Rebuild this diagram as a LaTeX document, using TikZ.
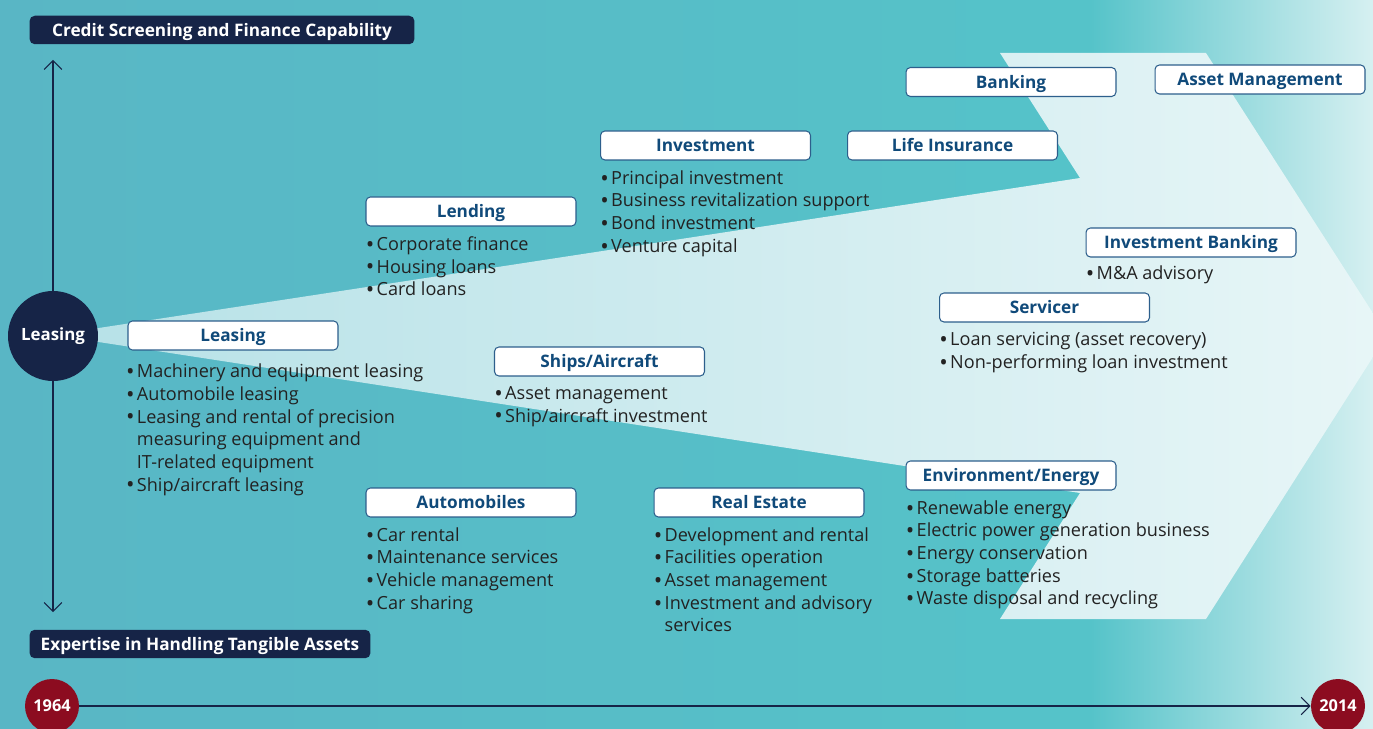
\documentclass[tikz,border=0pt]{standalone}
\usepackage{fontspec}
\setmainfont{Open Sans}
\definecolor{navy}{RGB}{22, 36, 71}
\definecolor{boxline}{RGB}{45, 95, 140}
\definecolor{boxtext}{RGB}{16, 74, 122}
\definecolor{listtext}{RGB}{34, 34, 34}
\definecolor{yearred}{RGB}{140, 12, 32}
\definecolor{bgleft}{RGB}{89, 182, 197}
\definecolor{bgmid}{RGB}{85, 195, 201}
\definecolor{bgright}{RGB}{214, 240, 241}
\definecolor{wedgeleft}{RGB}{182, 225, 231}
\definecolor{wedgeright}{RGB}{232, 246, 247}
\usetikzlibrary{arrows.meta, positioning}
\newcommand{\bul}{\makebox[0.6em][l]{\raisebox{-0.1em}{\scalebox{1.25}{\textbullet}}}}
\newcommand{\ind}{\hspace*{0.6em}}
\tikzset{
    catbox/.style={
        rectangle,
        draw=boxline,
        line width=0.6pt,
        fill=white,
        rounded corners=2.5pt,
        minimum width=4.2cm,
        minimum height=0.58cm,
        inner sep=0pt,
        text height=0.72em,
        text depth=0pt,
        font=\fontsize{9.8}{11}\selectfont\bfseries,
        text=boxtext
    },
    headbox/.style={
        rectangle,
        fill=navy,
        rounded corners=3pt,
        minimum height=0.57cm,
        inner sep=0pt,
        text height=0.72em,
        text depth=0pt,
        font=\fontsize{9.8}{11}\selectfont\bfseries,
        text=white
    },
    itemlist/.style={
        align=left,
        anchor=north west,
        inner sep=0pt,
        font=\fontsize{10.3}{12.9}\selectfont,
        text=listtext
    },
    yearcircle/.style={
        circle,
        fill=yearred,
        minimum size=1.08cm,
        inner sep=0pt,
        font=\fontsize{9.3}{10}\selectfont\bfseries,
        text=white
    },
    axisarrow/.style={-{Straight Barb[length=5pt, width=10pt]}, line width=0.6pt, draw=navy}
}
\begin{document}
\begin{tikzpicture}[x=0.02cm, y=-0.02cm]
      \useasboundingbox (0,0) rectangle (1373,729);
      \clip (0,0) rectangle (1373,729);
      % background and arrow band
      \shade[left color=bgleft, right color=bgmid] (0,0) rectangle (1091,729);
      \shade[left color=bgmid, right color=bgright] (1090,0) rectangle (1373,729);
      \shade[left color=wedgeleft, right color=wedgeright] (53,335) -- (1080,178) -- (1000,53) -- (1206,53) -- (1387,335) -- (1206,619) -- (1000,619) -- (1080,493) -- cycle;

      \node[headbox, minimum width=7.7cm] (credit) at (222,30) {Credit Screening and Finance Capability};
      \node[headbox, minimum width=6.82cm] (tangible) at (200,644) {Expertise in Handling Tangible Assets};

      \coordinate (vtop) at (53,60);
      \coordinate (vbot) at (53,612);
      \node[circle, fill=navy, minimum size=1.8cm, inner sep=0pt, text=white, font=\fontsize{9.6}{11}\selectfont\bfseries] (leasecirc) at (53,336) {Leasing};
      \draw[axisarrow] (leasecirc) -- (vtop);
      \draw[axisarrow] (leasecirc) -- (vbot);

      \node[yearcircle] (y1964) at (52,706) {1964};
      \node[yearcircle] (y2014) at (1338,706) {2014};
      \draw[axisarrow] (y1964) -- (y2014);

      % business boxes
      \node[catbox] (lease) at (233,335.5) {Leasing};
      \node[catbox] (lend) at (471,211.5) {Lending};
      \node[catbox] (invest) at (705.5,145.5) {Investment};
      \node[catbox] (life) at (952.5,145.5) {Life Insurance};
      \node[catbox] (bank) at (1011,82) {Banking};
      \node[catbox] (asset) at (1260,79.5) {Asset Management};
      \node[catbox] (ib) at (1191,242.5) {Investment Banking};
      \node[catbox] (serv) at (1044.5,307.5) {Servicer};
      \node[catbox] (ships) at (599.5,361.5) {Ships/Aircraft};
      \node[catbox] (env) at (1011,475.5) {Environment/Energy};
      \node[catbox] (auto) at (471,502.5) {Automobiles};
      \node[catbox] (real) at (759,502.5) {Real Estate};

      % item lists
      \node[itemlist, below right=7.5pt and -1pt of lease.south west] (leaselist) {\bul Machinery and equipment leasing\\ \bul Automobile leasing\\ \bul Leasing and rental of precision\\ \ind measuring equipment and\\ \ind IT-related equipment\\ \bul Ship/aircraft leasing};
      \node[itemlist, below right=5.5pt and 0pt of lend.south west] (lendlist) {\bul Corporate finance\\ \bul Housing loans\\ \bul Card loans};
      \node[itemlist, below right=5.5pt and 0pt of invest.south west] (investlist) {\bul Principal investment\\ \bul Business revitalization support\\ \bul Bond investment\\ \bul Venture capital};
      \node[itemlist, below right=4.5pt and 0pt of ib.south west] (iblist) {\bul M\&A advisory};
      \node[itemlist, below right=5.5pt and 0pt of serv.south west] (servlist) {\bul Loan servicing (asset recovery)\\ \bul Non-performing loan investment};
      \node[itemlist, below right=5.5pt and 0pt of ships.south west] (shipslist) {\bul Asset management\\ \bul Ship/aircraft investment};
      \node[itemlist, below right=5.5pt and 0pt of env.south west] (envlist) {\bul Renewable energy\\ \bul Electric power generation business\\ \bul Energy conservation\\ \bul Storage batteries\\ \bul Waste disposal and recycling};
      \node[itemlist, below right=5.5pt and 0pt of auto.south west] (autolist) {\bul Car rental\\ \bul Maintenance services\\ \bul Vehicle management\\ \bul Car sharing};
      \node[itemlist, below right=5.5pt and 0pt of real.south west] (reallist) {\bul Development and rental\\ \bul Facilities operation\\ \bul Asset management\\ \bul Investment and advisory\\ \ind services};
\end{tikzpicture}
\end{document}
